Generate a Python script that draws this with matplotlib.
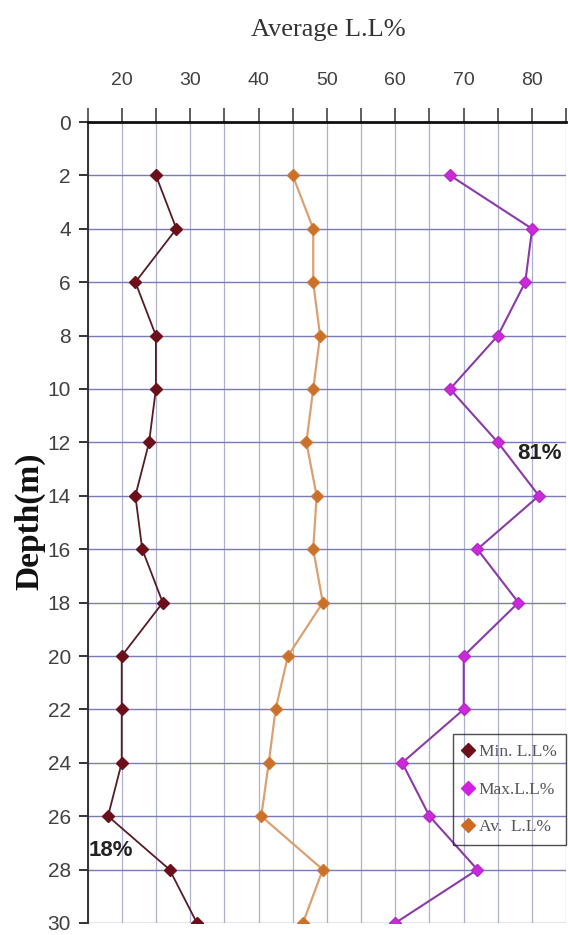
import matplotlib
matplotlib.use("Agg")
import matplotlib.pyplot as plt
from matplotlib.lines import Line2D
from matplotlib.ticker import MultipleLocator

depth = [2, 4, 6, 8, 10, 12, 14, 16, 18, 20, 22, 24, 26, 28, 30]
min_ll = [25, 28, 22, 25, 25, 24, 22, 23, 26, 20, 20, 20, 18, 27, 31]
max_ll = [68, 80, 79, 75, 68, 75, 81, 72, 78, 70, 70, 61, 65, 72, 60]
av_ll = [45, 48, 48, 49, 48, 47, 48.5, 48, 49.4, 44.3, 42.5, 41.5, 40.4, 49.4, 46.5]
series_labels = ["Min. L.L%", "Max.L.L%", "Av.  L.L%"]
x_major = [20, 30, 40, 50, 60, 70, 80]
y_ticks = list(range(0, 31, 2))

NARROW = ["Liberation Sans Narrow", "Liberation Sans", "DejaVu Sans"]
SERIF = ["Liberation Serif", "DejaVu Serif"]

fig = plt.figure(figsize=(5.68, 9.35), dpi=100)
W, H = 568, 935
ax = fig.add_axes([87.5 / W, 1 - 923 / H, (566.3 - 87.5) / W, (923 - 122) / H])

ax.set_xlim(15, 85)
ax.set_ylim(30, 0)

ax.xaxis.set_major_locator(MultipleLocator(10))
ax.xaxis.set_minor_locator(MultipleLocator(5))
ax.set_xticks(x_major)
ax.set_yticks(y_ticks)
for v in range(15, 86, 5):
    ax.axvline(v, color="#aeb0d0", lw=0.9, zorder=0)
for d in y_ticks:
    ax.axhline(d, color="#7a7ab8", lw=1.0, zorder=0)

ax.plot(min_ll, depth, color="#561c24", lw=1.3, marker="D", ms=6.5,
        mfc="#6b0f1a", mec="#6b0f1a", zorder=3)
ax.plot(max_ll, depth, color="#8a3aa8", lw=1.5, marker="D", ms=6.5,
        mfc="#cc2ad8", mec="#b428c8", zorder=3)
ax.plot(av_ll, depth, color="#dba072", lw=1.6, marker="D", ms=6.5,
        mfc="#c8702c", mec="#d2782e", zorder=3)

ax.xaxis.tick_top()
for s in ["right", "bottom"]:
    ax.spines[s].set_visible(False)
ax.spines["top"].set_linewidth(2.0)
ax.spines["top"].set_color("#111111")
ax.spines["left"].set_linewidth(1.4)
ax.spines["left"].set_color("#333333")
ax.tick_params(axis="x", which="both", direction="out", length=10, width=1.1,
               color="#333333", pad=14, labelsize=14, labelcolor="#404040",
               top=True, bottom=False)
ax.tick_params(axis="y", direction="out", length=6.5, width=1.4,
               color="#333333", pad=5.5, labelsize=15, labelcolor="#404040")
for lab in ax.get_xticklabels() + ax.get_yticklabels():
    lab.set_family(NARROW)

fig.text(328 / W, 1 - 30 / H, "Average L.L%", ha="center", va="center",
         fontsize=19, family=SERIF, color="#333333")
fig.text(30 / W, 1 - 521 / H, "Depth(m)", ha="center", va="center",
         rotation=90, fontsize=24, fontweight="bold", family=SERIF,
         color="#111111")

ax.text(max(max_ll) + 0.1, 12.4, f"{max(max_ll)}%", ha="center", va="center",
        fontsize=16, fontweight="bold", family=NARROW, color="#222222")
ax.text(15.1, 27.3, f"{min(min_ll)}%", ha="left", va="center",
        fontsize=16, fontweight="bold", family=NARROW, color="#222222")

handles = [
    Line2D([], [], ls="none", marker="D", ms=7.5, mfc="#6b0f1a", mec="#6b0f1a"),
    Line2D([], [], ls="none", marker="D", ms=7.5, mfc="#d020e0", mec="#d020e0"),
    Line2D([], [], ls="none", marker="D", ms=7.5, mfc="#d06a20", mec="#d06a20"),
]
leg = fig.legend(handles, series_labels, loc="lower right",
                 bbox_to_anchor=(566 / W, 1 - 845 / H), borderaxespad=0,
                 frameon=True, fancybox=False, handlelength=0.7,
                 handletextpad=0.25, labelspacing=1.25, borderpad=0.55,
                 prop={"family": SERIF, "size": 12.5})
leg.get_frame().set_facecolor("none")
leg.get_frame().set_edgecolor("#222222")
leg.get_frame().set_linewidth(1.0)
for t in leg.get_texts():
    t.set_color("#555555")

fig.savefig("out.png", dpi=100)
